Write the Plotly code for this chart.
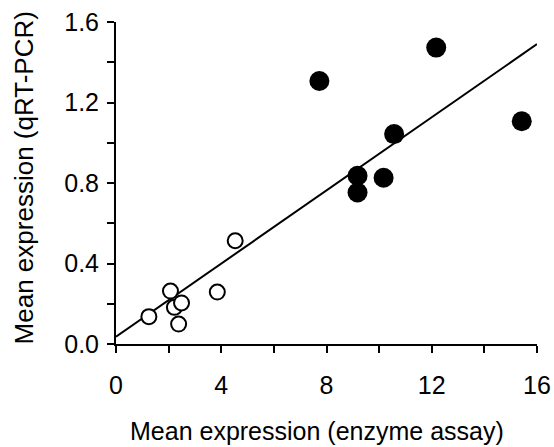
import plotly.graph_objects as go

# Filled circles (high expression group)
filled_x = [7.73, 12.17, 15.42, 10.57, 9.18, 9.18, 10.17]
filled_y = [1.307, 1.473, 1.107, 1.043, 0.836, 0.753, 0.826]

# Open circles (low expression group)
open_x = [1.25, 2.07, 2.22, 2.49, 2.38, 3.85, 4.53]
open_y = [0.136, 0.263, 0.182, 0.204, 0.099, 0.258, 0.513]

# Regression line end points
line_x = [0, 16]
line_y = [0.036, 1.490]

x_title = "Mean expression (enzyme assay)"
y_title = "Mean expression (qRT-PCR)"

font_family = "Liberation Sans, Arial, Helvetica, sans-serif"

fig = go.Figure()
fig.add_trace(go.Scatter(x=line_x, y=line_y, mode="lines",
                         line=dict(color="black", width=2), showlegend=False))
fig.add_trace(go.Scatter(x=open_x, y=open_y, mode="markers",
                         marker=dict(symbol="circle", size=15, color="white",
                                     line=dict(color="black", width=2)),
                         showlegend=False, cliponaxis=False))
fig.add_trace(go.Scatter(x=filled_x, y=filled_y, mode="markers",
                         marker=dict(symbol="circle", size=20, color="black",
                                     line=dict(color="black", width=0)),
                         showlegend=False, cliponaxis=False))

fig.update_layout(
    width=554, height=447,
    margin=dict(l=115.5, r=17, t=21.7, b=103),
    paper_bgcolor="white", plot_bgcolor="white",
    font=dict(family=font_family, size=25, color="black"),
    xaxis=dict(range=[0, 16], dtick=4, tick0=0, showgrid=False, zeroline=False,
               automargin=False,
               showline=True, linecolor="black", linewidth=2,
               ticks="outside", ticklen=7, tickwidth=2, tickcolor="black",
               ticklabelstandoff=11, tickfont=dict(size=25),
               minor=dict(dtick=2, ticks="outside", ticklen=7, tickwidth=2, tickcolor="black")),
    yaxis=dict(range=[0, 1.6], dtick=0.4, tick0=0, tickformat=".1f", showgrid=False,
               zeroline=False, automargin=False,
               showline=True, linecolor="black", linewidth=2,
               ticks="outside", ticklen=7, tickwidth=2, tickcolor="black",
               ticklabelstandoff=3, tickfont=dict(size=25),
               minor=dict(dtick=0.2, ticks="outside", ticklen=7, tickwidth=2, tickcolor="black")),
    annotations=[
        dict(text=x_title, xref="paper", yref="paper", x=0.478, y=-0.27,
             xanchor="center", yanchor="middle", showarrow=False,
             font=dict(size=25)),
        dict(text=y_title, xref="paper", yref="paper", x=-0.218, y=0.515,
             xanchor="center", yanchor="middle", textangle=-90, showarrow=False,
             font=dict(size=26)),
    ],
)

fig.write_html("out.html")
